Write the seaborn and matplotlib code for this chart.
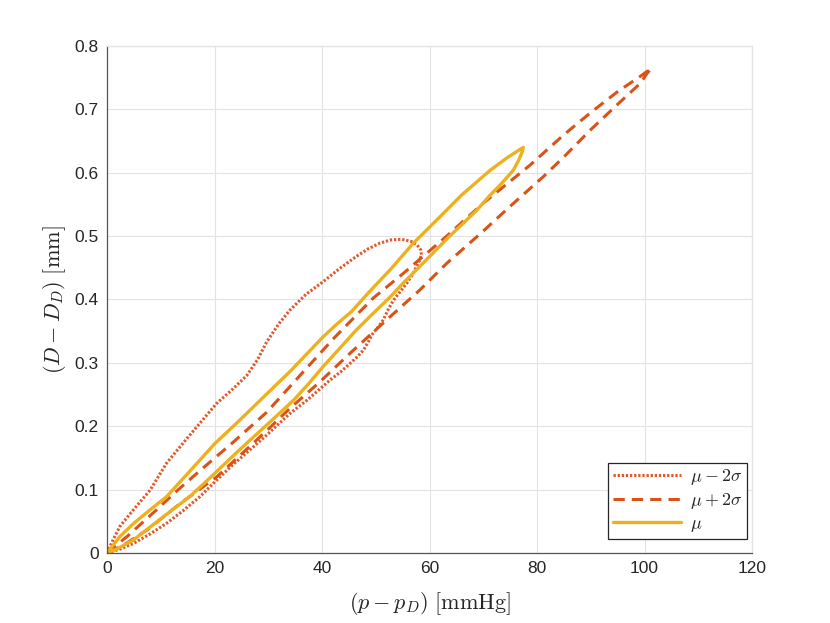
import numpy as np
import pandas as pd
import matplotlib
matplotlib.use("Agg")
import matplotlib.pyplot as plt
import seaborn as sns

# ---------------- data ----------------
# mu - 2 sigma loop (dotted)
lo_x = [0, 1.2, 2.4, 4.9, 8, 11.1, 14.8, 17.5, 20.4, 23.3, 26, 28, 29.7, 32, 34, 37,
        40.2, 43.3, 46.4, 48.6, 50.8, 52.8, 54.8, 56.5, 57.7, 58.4, 58.5, 58.1, 57.6,
        56.8, 55.8, 54.6, 53.3, 52.3, 51.4, 50.5, 49.5, 48.6, 47.7, 46.5, 45.2, 43.5,
        41.5, 39.5, 37.2, 34, 29.7, 26.5, 23.5, 20.4, 17.3, 14.2, 11.1, 8, 4.9, 2.4, 0]
lo_y = [0, 0.022, 0.042, 0.068, 0.099, 0.142, 0.180, 0.207, 0.236, 0.258, 0.280, 0.305,
        0.333, 0.362, 0.383, 0.408, 0.428, 0.449, 0.468, 0.480, 0.489, 0.494, 0.495,
        0.492, 0.486, 0.478, 0.470, 0.461, 0.452, 0.439, 0.426, 0.413, 0.399, 0.384,
        0.368, 0.357, 0.347, 0.333, 0.320, 0.309, 0.299, 0.286, 0.273, 0.258, 0.241,
        0.220, 0.186, 0.162, 0.140, 0.115, 0.089, 0.067, 0.047, 0.030, 0.015, 0.006, 0]

# mu + 2 sigma loop (dashed)
hi_x = [0, 4, 9.2, 13, 17.3, 23.5, 29.7, 36, 42.1, 49.5, 55.1, 63.2, 70, 78.7, 85, 90,
        95, 99.2, 101.3, 100.5, 99.2, 95, 90, 85, 81.2, 75, 70, 63.2, 58.2, 52.7, 45.2,
        39.6, 34, 29.7, 25, 20.4, 13.6, 7.4, 3, 0]
hi_y = [0, 0.028, 0.068, 0.098, 0.130, 0.175, 0.222, 0.281, 0.338, 0.402, 0.441, 0.500,
        0.552, 0.612, 0.660, 0.695, 0.728, 0.752, 0.765, 0.757, 0.741, 0.708, 0.668,
        0.625, 0.594, 0.547, 0.508, 0.457, 0.415, 0.373, 0.315, 0.270, 0.228, 0.193,
        0.156, 0.120, 0.078, 0.036, 0.012, 0]

# mu loop (solid)
mu_x = [0, 2.4, 5, 8, 11.1, 15.5, 20.1, 24.5, 28.5, 34, 40.2, 43, 45.5, 49, 52.7, 57,
        61.3, 66, 71.3, 74.5, 76.5, 77.45, 77.2, 76.6, 75.6, 73.4, 71, 68.8, 66, 63.5,
        60.5, 57.6, 55, 52.7, 49.5, 46.4, 43.3, 40.2, 37.5, 34.7, 30.5, 26.6, 23.3,
        20.1, 15.4, 10, 4.9, 2, 0]
mu_y = [0, 0.026, 0.047, 0.068, 0.089, 0.130, 0.173, 0.208, 0.241, 0.286, 0.341, 0.363,
        0.381, 0.414, 0.447, 0.489, 0.525, 0.565, 0.604, 0.624, 0.635, 0.640, 0.632,
        0.620, 0.604, 0.583, 0.562, 0.541, 0.518, 0.498, 0.472, 0.447, 0.425, 0.404,
        0.378, 0.352, 0.323, 0.294, 0.267, 0.241, 0.208, 0.178, 0.152, 0.126, 0.089,
        0.054, 0.0205, 0.007, 0]

series_labels = [r'$\mu - 2\sigma$', r'$\mu + 2\sigma$', r'$\mu$']
x_ticks = [0, 20, 40, 60, 80, 100, 120]
y_ticks = [0, 0.1, 0.2, 0.3, 0.4, 0.5, 0.6, 0.7, 0.8]
x_label = r'$(p - p_D)\ [\mathrm{mmHg}]$'
y_label = r'$(D - D_D)\ [\mathrm{mm}]$'

# ---------------- style ----------------
sns.set_style("white")
plt.rcParams['font.family'] = ['Liberation Sans', 'DejaVu Sans']
plt.rcParams['mathtext.fontset'] = 'cm'

fig = plt.figure(figsize=(8.3, 6.23), dpi=100)
ax = fig.add_axes([107 / 830, 70 / 623, 645 / 830, 507 / 623])

c_lo = '#E2582A'
c_hi = '#D95319'
c_mu = '#EDB120'

def loop_df(xs, ys):
    return pd.DataFrame({'x': xs, 'y': ys})

sns.lineplot(data=loop_df(lo_x, lo_y), x='x', y='y', sort=False, estimator=None,
             ax=ax, color=c_lo, lw=2.2, label=series_labels[0])
sns.lineplot(data=loop_df(hi_x, hi_y), x='x', y='y', sort=False, estimator=None,
             ax=ax, color=c_hi, lw=2.2, label=series_labels[1])
sns.lineplot(data=loop_df(mu_x, mu_y), x='x', y='y', sort=False, estimator=None,
             ax=ax, color=c_mu, lw=2.4, label=series_labels[2])

lines = ax.get_lines()
lines[0].set_dashes([0.75, 0.6])
lines[0].set_dash_capstyle('butt')
lines[1].set_dashes([3.7, 2.3])
lines[1].set_dash_capstyle('butt')
for ln in lines:
    ln.set_solid_joinstyle('round')

ax.set_xlim(0, 120)
ax.set_ylim(0, 0.8)
ax.set_xticks(x_ticks)
ax.set_yticks(y_ticks)
ax.set_xticklabels([str(v) for v in x_ticks])
ax.set_yticklabels(['0'] + [f'{v:.1f}' for v in y_ticks[1:]])
ax.grid(True, color='#e3e3e3', lw=0.8)
ax.set_axisbelow(True)

for s in ['left', 'bottom']:
    ax.spines[s].set_color('#555555')
    ax.spines[s].set_linewidth(0.9)
for s in ['top', 'right']:
    ax.spines[s].set_color('#e3e3e3')
    ax.spines[s].set_linewidth(0.9)

ax.tick_params(axis='both', which='both', direction='in', length=5, width=0.9,
               color='#555555', labelsize=12.5, labelcolor='#262626',
               top=False, right=False, pad=6)

ax.set_xlabel(x_label, fontsize=16, color='#262626')
ax.set_ylabel(y_label, fontsize=16, color='#262626')
ax.xaxis.set_label_coords(0.5, -0.072)
ax.yaxis.set_label_coords(-0.06, 0.5)

leg = ax.legend(loc='lower right', bbox_to_anchor=(0.9925, 0.028), fontsize=13,
                frameon=True, fancybox=False, handlelength=3.8, handletextpad=0.5,
                borderpad=0.25, labelspacing=0.22, borderaxespad=0.0)
leg.get_frame().set_edgecolor('#262626')
leg.get_frame().set_linewidth(0.9)
leg.get_frame().set_alpha(1)

fig.savefig('out.png', dpi=100)
